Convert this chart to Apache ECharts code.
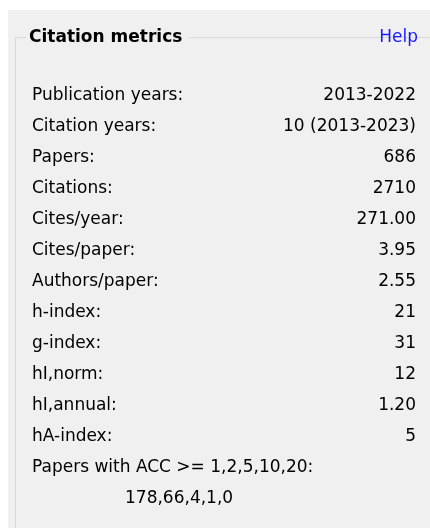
<!DOCTYPE html>
<html>
<head>
<meta charset="utf-8">
<script src="https://cdn.jsdelivr.net/npm/echarts@6/dist/echarts.min.js"></script>
<style>
html,body{margin:0;padding:0;background:#fff;}
#main{width:430px;height:528px;}
</style>
</head>
<body>
<div id="main"></div>
<script>
// metric names and values, one per row
var metricLabels = ['Publication years:', 'Citation years:', 'Papers:', 'Citations:', 'Cites/year:',
	'Cites/paper:', 'Authors/paper:', 'h-index:', 'g-index:', 'hI,norm:', 'hI,annual:', 'hA-index:'];
var metricValues = ['2013-2022', '10 (2013-2023)', '686', '2710', '271.00',
	'3.95', '2.55', '21', '31', '12', '1.20', '5'];
var accLabel = 'Papers with ACC >= 1,2,5,10,20:';
var accValues = [178, 66, 4, 1, 0];

var font = '"DejaVu Sans", sans-serif';
var rowTop = 95.5, rowStep = 31;

var elements = [
	// panel background
	{type: 'rect', shape: {x: 8, y: 10, width: 422, height: 518}, style: {fill: '#f0f0f0'}},
	// group box frame
	{type: 'polyline', shape: {points: [[189, 37.5], [430, 37.5]]}, style: {stroke: '#d9d9d9', lineWidth: 1}},
	{type: 'polyline', shape: {points: [[15.5, 528], [15.5, 37.5], [26, 37.5]]}, style: {stroke: '#d9d9d9', lineWidth: 1}},
	{type: 'text', x: 29, y: 38, style: {text: 'Citation metrics', font: 'bold 17px ' + font, fill: '#000', verticalAlign: 'middle'}},
	{type: 'text', x: 418, y: 38, style: {text: 'Help', font: '17px ' + font, fill: '#1a1aff', align: 'right', verticalAlign: 'middle'}}
];

for (var i = 0; i < metricLabels.length; i++) {
	var y = rowTop + i * rowStep;
	elements.push({type: 'text', x: 32, y: y, style: {text: metricLabels[i], font: '17px ' + font, fill: '#000', verticalAlign: 'middle'}});
	elements.push({type: 'text', x: 416, y: y, style: {text: metricValues[i], font: '17px ' + font, fill: '#000', align: 'right', verticalAlign: 'middle'}});
}
var yAcc = rowTop + metricLabels.length * rowStep;
elements.push({type: 'text', x: 32, y: yAcc, style: {text: accLabel, font: '17px ' + font, fill: '#000', verticalAlign: 'middle'}});
elements.push({type: 'text', x: 125, y: yAcc + rowStep, style: {text: accValues.join(','), font: '17px ' + font, fill: '#000', verticalAlign: 'middle'}});

var myChart = echarts.init(document.getElementById('main'));
myChart.setOption({
	animation: false,
	graphic: {elements: elements}
});
</script>
</body>
</html>
